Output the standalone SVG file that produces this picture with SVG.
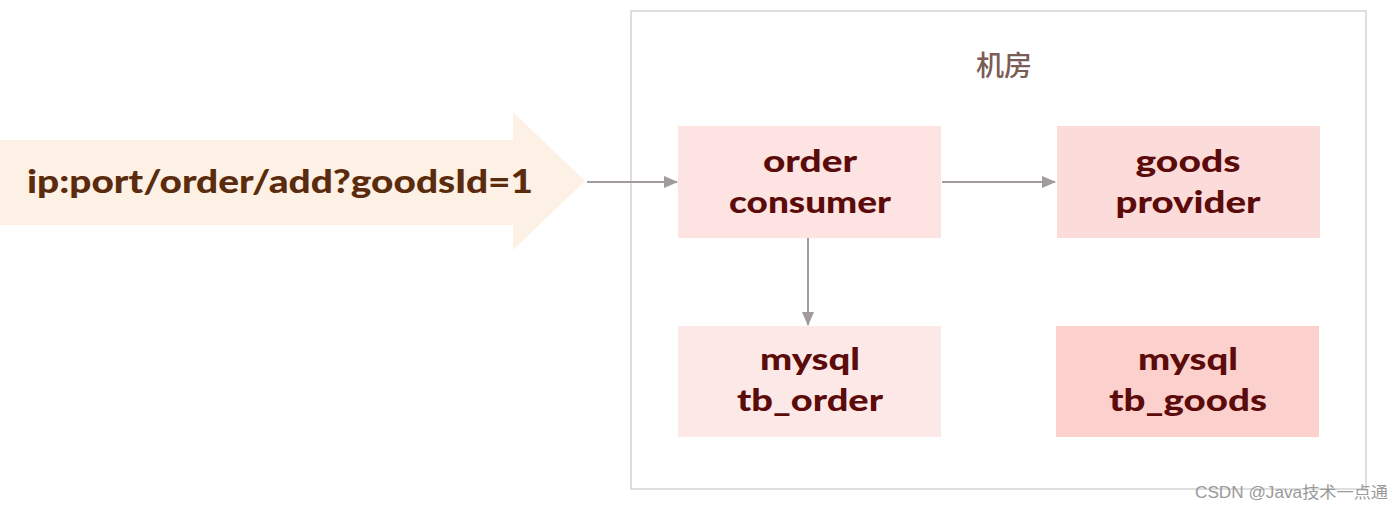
<svg xmlns="http://www.w3.org/2000/svg" width="1400" height="509" viewBox="0 0 1400 509">
<style>
.lbl{font-family:Lato,"Open Sans","Liberation Sans",sans-serif;font-weight:900;font-size:31px;fill:#5c0b0b;text-anchor:middle}
.conn{stroke:#a29b9b;stroke-width:2;fill:none}
</style>
<defs>
<marker id="ah" markerWidth="14" markerHeight="14" refX="13" refY="6" orient="auto" markerUnits="userSpaceOnUse" viewBox="0 0 14 12">
<path d="M0,0 L14,6 L0,12 z" fill="#a29b9b"/>
</marker>
</defs>
<rect width="1400" height="509" fill="#ffffff"/>
<g id="container">
<rect x="631" y="11" width="735" height="478" fill="#ffffff" stroke="#d4d4d4" stroke-width="1.5"/>
<text x="1004" y="76" font-family="'Noto Sans CJK SC',sans-serif" font-weight="500" font-size="28" fill="#7b5c57" text-anchor="middle">机房</text>
</g>
<g id="request">
<polygon points="0,140 513,140 513,112 585,181 513,250 513,225 0,225" fill="#fdf0e4"/>
<text x="280" y="193" font-family="Lato,'Liberation Sans',sans-serif" font-weight="900" font-size="33" fill="#5a2c0d" text-anchor="middle" textLength="506" lengthAdjust="spacingAndGlyphs">ip:port/order/add?goodsId=1</text>
</g>
<g id="connectors">
<line class="conn" x1="587" y1="182" x2="677" y2="182" marker-end="url(#ah)"/>
<line class="conn" x1="942" y1="182" x2="1055" y2="182" marker-end="url(#ah)"/>
<line class="conn" x1="808" y1="238" x2="808" y2="325" marker-end="url(#ah)"/>
</g>
<g id="order-consumer">
<rect x="678" y="126" width="263" height="112" fill="#fde3e2"/>
<text class="lbl" x="810" y="172" textLength="94" lengthAdjust="spacingAndGlyphs">order</text>
<text class="lbl" x="810" y="213" textLength="162" lengthAdjust="spacingAndGlyphs">consumer</text>
</g>
<g id="goods-provider">
<rect x="1057" y="126" width="263" height="112" fill="#fcdcdb"/>
<text class="lbl" x="1188" y="172" textLength="105" lengthAdjust="spacingAndGlyphs">goods</text>
<text class="lbl" x="1188" y="213" textLength="145" lengthAdjust="spacingAndGlyphs">provider</text>
</g>
<g id="mysql-tb-order">
<rect x="678" y="326" width="263" height="111" fill="#fde8e8"/>
<text class="lbl" x="810" y="370" textLength="100" lengthAdjust="spacingAndGlyphs">mysql</text>
<text class="lbl" x="810" y="411" textLength="146" lengthAdjust="spacingAndGlyphs">tb_order</text>
</g>
<g id="mysql-tb-goods">
<rect x="1056" y="326" width="263" height="111" fill="#fbd0cd"/>
<text class="lbl" x="1188" y="370" textLength="100" lengthAdjust="spacingAndGlyphs">mysql</text>
<text class="lbl" x="1188" y="411" textLength="158" lengthAdjust="spacingAndGlyphs">tb_goods</text>
</g>
<text x="1388" y="498" font-family="'Liberation Sans','Noto Sans CJK SC',sans-serif" font-size="16" fill="#9a9a9a" text-anchor="end" textLength="193" lengthAdjust="spacingAndGlyphs">CSDN @Java技术一点通</text>
</svg>
